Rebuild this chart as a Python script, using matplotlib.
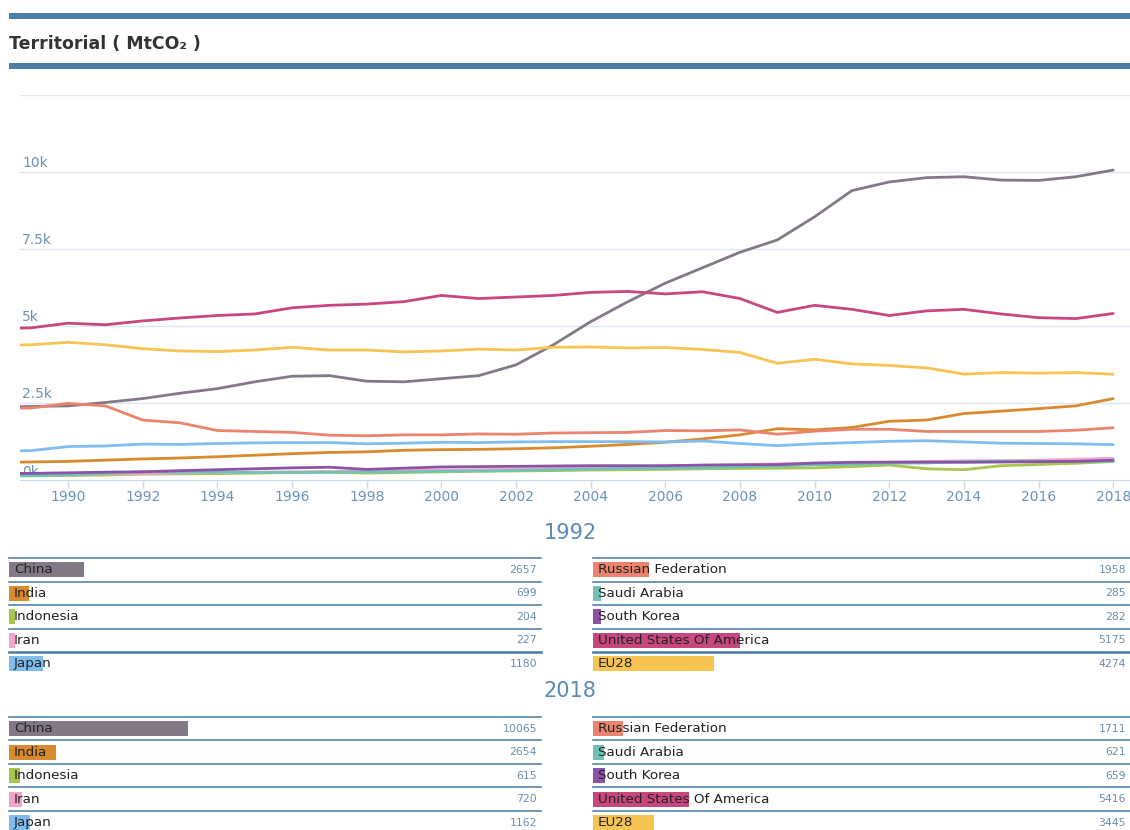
import matplotlib
matplotlib.use("Agg")
import matplotlib.pyplot as plt
from matplotlib.patches import Rectangle
import matplotlib.transforms as mtransforms

plt.rcParams['font.family'] = ['DejaVu Sans']

# ---------------- data ----------------
years = list(range(1988, 2019))

china = [2380, 2400, 2420, 2530, 2657, 2830, 2980, 3200, 3380, 3400, 3220, 3200, 3300, 3400, 3750,
         4400, 5150, 5800, 6400, 6900, 7400, 7800, 8550, 9400, 9680, 9820, 9850, 9740, 9730, 9850, 10065]
usa = [4920, 4950, 5100, 5050, 5175, 5270, 5350, 5400, 5600, 5680, 5720, 5800, 6000, 5900, 5950,
       6000, 6100, 6130, 6050, 6120, 5900, 5450, 5680, 5550, 5350, 5500, 5550, 5400, 5280, 5250, 5416]
eu28 = [4380, 4400, 4480, 4400, 4274, 4200, 4180, 4230, 4320, 4230, 4230, 4170, 4200, 4260, 4230,
        4320, 4330, 4300, 4310, 4250, 4150, 3800, 3930, 3780, 3730, 3650, 3450, 3500, 3480, 3500, 3445]
russia = [2340, 2350, 2500, 2420, 1958, 1870, 1620, 1590, 1560, 1470, 1450, 1480, 1480, 1510, 1500,
          1540, 1550, 1560, 1620, 1610, 1640, 1500, 1600, 1660, 1660, 1590, 1590, 1590, 1590, 1630, 1711]
japan = [950, 970, 1100, 1120, 1180, 1170, 1200, 1220, 1230, 1230, 1190, 1210, 1240, 1230, 1250,
         1260, 1260, 1260, 1250, 1280, 1200, 1130, 1190, 1230, 1270, 1290, 1250, 1210, 1200, 1190, 1162]
india = [590, 600, 620, 660, 699, 730, 770, 820, 870, 910, 930, 980, 1000, 1010, 1030,
         1060, 1110, 1170, 1240, 1350, 1480, 1680, 1640, 1720, 1920, 1960, 2170, 2250, 2330, 2420, 2654]
indonesia = [145, 150, 160, 180, 204, 215, 225, 240, 260, 270, 240, 260, 280, 300, 310,
             320, 340, 350, 360, 380, 390, 400, 410, 450, 500, 380, 350, 480, 520, 560, 615]
iran = [185, 190, 200, 215, 227, 240, 260, 270, 280, 290, 300, 320, 340, 350, 370,
        390, 410, 440, 470, 490, 510, 540, 560, 570, 590, 610, 640, 640, 660, 690, 720]
saudi = [155, 160, 180, 230, 285, 265, 270, 260, 265, 270, 275, 280, 300, 310, 325,
         350, 370, 390, 400, 410, 440, 470, 510, 520, 560, 570, 610, 630, 630, 610, 621]
skorea = [225, 230, 250, 270, 282, 320, 350, 380, 410, 430, 360, 400, 440, 450, 460,
          470, 480, 480, 480, 500, 510, 515, 565, 590, 595, 600, 590, 600, 610, 620, 659]

series_names = ["China", "India", "Indonesia", "Iran", "Japan",
                "Russian Federation", "Saudi Arabia", "South Korea",
                "United States Of America", "EU28"]
series_values = [china, india, indonesia, iran, japan, russia, saudi, skorea, usa, eu28]
series_colors = ["#837986", "#d98a2e", "#a9c54f", "#f4a3cb", "#80bcf0",
                 "#ea846e", "#70c2b6", "#8b53a6", "#c8477e", "#f6c453"]

y_ticks = [0, 2500, 5000, 7500, 10000]
y_tick_labels = ["0k", "2.5k", "5k", "7.5k", "10k"]
x_ticks = list(range(1990, 2019, 2))

table_years = [1992, 2018]

# ---------------- figure ----------------
W, H = 1130, 830
fig = plt.figure(figsize=(W / 100, H / 100), dpi=100)
fig.patch.set_facecolor("white")

def fx(px):
    return px / W

def fy(py):
    return 1 - py / H

bar_col = "#4b7fa8"
# header bars
fig.add_artist(Rectangle((fx(9), fy(19)), fx(W - 9), 6 / H, transform=fig.transFigure,
                         facecolor=bar_col, edgecolor="none"))
fig.add_artist(Rectangle((fx(9), fy(69)), fx(W - 9), 6 / H, transform=fig.transFigure,
                         facecolor=bar_col, edgecolor="none"))
fig.text(fx(9), fy(44), "Territorial ( MtCO\u2082 )", fontsize=12.5, fontweight="bold",
         color="#333333", va="center", ha="left")

# ---------------- line chart ----------------
ax = fig.add_axes([fx(20), fy(480.5), fx(1110), 385.5 / H])
ax.set_xlim(1988.71, 2018.45)
ax.set_ylim(0, 12500)
for s in ax.spines.values():
    s.set_visible(False)
for g in [2500, 5000, 7500, 10000, 12500]:
    ax.axhline(g, color="#dfe8f0", lw=1, zorder=0)
ax.axhline(0, color="#c8d7e6", lw=1.5, zorder=0.5)

tick_col = "#6a93b8"
ax.set_yticks([])
for v, lab in zip(y_ticks, y_tick_labels):
    off = mtransforms.offset_copy(ax.get_yaxis_transform(), fig=fig, x=2, y=2, units="dots")
    ax.text(0, v, lab, transform=off, fontsize=10, color=tick_col, ha="left", va="bottom", zorder=1)

ax.set_xticks(x_ticks)
ax.set_xticklabels([str(x) for x in x_ticks])
ax.tick_params(axis="x", colors="#c8d7e6", length=5, width=1, pad=2, labelsize=10,
               labelcolor=tick_col)

for vals, col in zip(series_values, series_colors):
    ax.plot(years, vals, color=col, lw=2.0, solid_joinstyle="round", solid_capstyle="round",
            zorder=2, clip_on=True)

# ---------------- tables ----------------
heading_y = {1992: 533, 2018: 691}
table_top = {1992: 558, 2018: 717}
row_h = 23.5
bar_full = 481.0
sep_col = "#4e7fa6"

for yr in table_years:
    idx = years.index(yr)
    vals = [s[idx] for s in series_values]
    total = sum(vals)
    fig.text(fx(570), fy(heading_y[yr]), str(yr), fontsize=15, color="#5a8ab5",
             ha="center", va="center")
    for side, (x0, x1) in enumerate([(9, 541), (593, 1130)]):
        top = table_top[yr]
        tax = fig.add_axes([fx(x0), fy(top + 5 * row_h), fx(x1 - x0), 5 * row_h / H])
        tax.set_axis_off()
        width_px = x1 - x0
        tax.set_xlim(0, total * width_px / bar_full)
        tax.set_ylim(4.5, -0.5)
        names = series_names[side * 5:(side + 1) * 5]
        v5 = vals[side * 5:(side + 1) * 5]
        c5 = series_colors[side * 5:(side + 1) * 5]
        tax.barh(range(5), v5, height=0.64, color=c5, left=0, zorder=1)
        for i, (n, v) in enumerate(zip(names, v5)):
            lw = 2.6 if (i == 4 and yr == 1992) else 1.6
            tax.axhline(i - 0.5, color=sep_col, lw=lw * 0.72, zorder=0, clip_on=False)
            tax.text(5 / width_px, i, n, transform=tax.get_yaxis_transform(), fontsize=9.7,
                     color="#222222", ha="left", va="center", zorder=2)
            tax.text(1 - 4 / width_px, i, str(v), transform=tax.get_yaxis_transform(),
                     fontsize=7.8, color="#6b8eae", ha="right", va="center", zorder=2)

fig.savefig("out.png", dpi=100, facecolor="white")
